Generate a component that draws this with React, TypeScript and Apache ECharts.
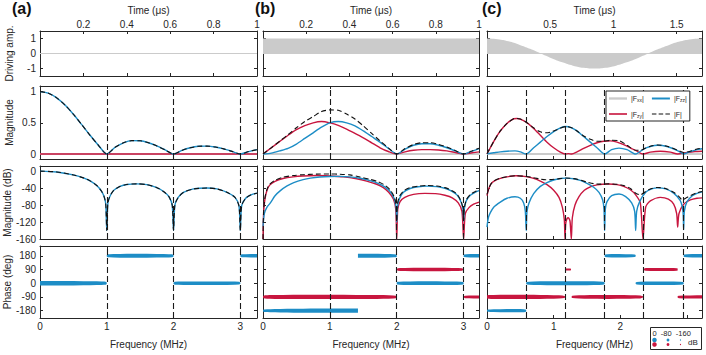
import React, { useEffect, useRef } from 'react';
import * as echarts from 'echarts';

// ---------------- data ----------------
const freqTickValues = [0, 1, 2, 3];
const freqLabelsAB = [0, 1, 2, 3];
const freqLabelsC = [0, 1, 2];
const timeTicksAB = [0.2, 0.4, 0.6, 0.8, 1];
const timeTicksC = [0.5, 1, 1.5];
const driveTicks = [-1, 0, 1];
const magTicks = [0, 0.5, 1];
const dbTicks = [-160, -120, -80, -40, 0];
const phaseTicks = [-180, -90, 0, 90, 180];
const nullsAB = [1, 2, 3];
const nullsC = [0.588, 1.176, 1.765, 2.353, 2.941];

// driving amplitude vs time (us)
const baseAB = [[0, 0], [1, 0]];
const baseC = [[0, 0], [1.7, 0]];
const driveB = [[0, 1], [1, 1]];
const driveC = [[0, 1], [0.085, 0.951], [0.17, 0.809], [0.255, 0.588], [0.34, 0.309], [0.425, 0], [0.51, -0.309], [0.595, -0.588], [0.68, -0.809], [0.765, -0.951], [0.85, -1], [0.935, -0.951], [1.02, -0.809], [1.105, -0.588], [1.19, -0.309], [1.275, 0], [1.36, 0.309], [1.445, 0.588], [1.53, 0.809], [1.615, 0.951], [1.7, 1]];

// zero-valued filter functions
const zeroAB = [[0, 0], [3.25, 0]];
const zeroC = [[0, 0], [3.23, 0]];

// (a) magnitude |F| = |Fzz|
const aMag = [[0, 1], [0.125, 0.975], [0.25, 0.9], [0.375, 0.784], [0.5, 0.637], [0.625, 0.47], [0.75, 0.3], [0.875, 0.139], [1, 0], [1.125, 0.108], [1.25, 0.18], [1.375, 0.214], [1.5, 0.212], [1.625, 0.181], [1.75, 0.129], [1.875, 0.065], [2, 0], [2.125, 0.057], [2.25, 0.1], [2.375, 0.124], [2.5, 0.127], [2.625, 0.112], [2.75, 0.082], [2.875, 0.042], [3, 0], [3.125, 0.039], [3.25, 0.07]];
// (a) magnitude in dB
const aDb = [[0, 0], [0.25, -2], [0.5, -9], [0.65, -16], [0.75, -23], [0.85, -34], [0.92, -47], [0.96, -60], [0.985, -78], [1, -140], [1.015, -78], [1.04, -62], [1.1, -46], [1.2, -36], [1.3, -31.5], [1.45, -30], [1.6, -32], [1.75, -39], [1.85, -48], [1.93, -60], [1.98, -80], [2, -140], [2.02, -80], [2.07, -62], [2.15, -50], [2.3, -42], [2.5, -40], [2.65, -42], [2.8, -50], [2.92, -62], [2.98, -82], [3, -140], [3.02, -82], [3.08, -64], [3.16, -56], [3.25, -52]];

// (b) magnitudes
const bMagZy = [[0, 0], [0.125, 0.1], [0.25, 0.2], [0.375, 0.3], [0.5, 0.39], [0.625, 0.455], [0.75, 0.5], [0.875, 0.52], [1, 0.5], [1.125, 0.46], [1.25, 0.4], [1.375, 0.33], [1.5, 0.26], [1.625, 0.18], [1.75, 0.1], [1.875, 0.04], [2, 0], [2.125, 0.035], [2.25, 0.06], [2.375, 0.07], [2.5, 0.07], [2.625, 0.065], [2.75, 0.05], [2.875, 0.025], [3, 0], [3.125, 0.02], [3.23, 0.035]];
const bMagZz = [[0, 0], [0.125, 0.015], [0.25, 0.05], [0.375, 0.09], [0.5, 0.16], [0.625, 0.25], [0.75, 0.34], [0.875, 0.43], [1, 0.5], [1.125, 0.52], [1.25, 0.5], [1.375, 0.45], [1.5, 0.37], [1.625, 0.28], [1.75, 0.19], [1.875, 0.09], [2, 0], [2.125, 0.08], [2.25, 0.14], [2.375, 0.165], [2.5, 0.165], [2.625, 0.14], [2.75, 0.1], [2.875, 0.05], [3, 0], [3.125, 0.045], [3.23, 0.085]];
const bMagF = [[0, 0], [0.125, 0.101], [0.25, 0.206], [0.375, 0.31], [0.5, 0.42], [0.625, 0.52], [0.75, 0.6], [0.875, 0.68], [1, 0.707], [1.125, 0.7], [1.25, 0.64], [1.375, 0.56], [1.5, 0.45], [1.625, 0.33], [1.75, 0.21], [1.875, 0.098], [2, 0], [2.125, 0.087], [2.25, 0.152], [2.375, 0.18], [2.5, 0.18], [2.625, 0.155], [2.75, 0.112], [2.875, 0.056], [3, 0], [3.125, 0.049], [3.23, 0.092]];
// (b) dB
const bDbZy = [[0, -160], [0.01, -95], [0.03, -65], [0.06, -45], [0.1, -33], [0.18, -24], [0.3, -17.5], [0.45, -13.5], [0.6, -11.5], [0.8, -10.5], [1, -11.5], [1.2, -13.5], [1.4, -18], [1.55, -23.5], [1.7, -31], [1.8, -39], [1.88, -50], [1.95, -66], [1.985, -90], [2, -160], [2.015, -90], [2.05, -72], [2.12, -62], [2.25, -55], [2.42, -52.5], [2.58, -53], [2.72, -57], [2.83, -63], [2.92, -75], [2.975, -95], [3, -160], [3.025, -100], [3.08, -86], [3.15, -78], [3.23, -73]];
const bDbZz = [[0, -130], [0.02, -100], [0.06, -85], [0.11, -75], [0.18, -58], [0.26, -46], [0.36, -35], [0.46, -27], [0.6, -20], [0.71, -16.5], [0.85, -14], [1, -12.8], [1.15, -12.5], [1.3, -13.5], [1.45, -17], [1.6, -22.5], [1.72, -29], [1.82, -37], [1.9, -48], [1.96, -64], [1.99, -85], [2, -120], [2.01, -85], [2.04, -65], [2.1, -50], [2.2, -41], [2.32, -37], [2.45, -35.5], [2.6, -36.5], [2.72, -40.5], [2.82, -47], [2.9, -56], [2.96, -72], [2.99, -90], [3, -118], [3.01, -90], [3.04, -70], [3.1, -57], [3.17, -50], [3.23, -46]];
const bDbF = [[0, -160], [0.01, -92], [0.03, -62], [0.06, -43], [0.1, -31], [0.18, -21.5], [0.3, -14.5], [0.45, -10.5], [0.6, -8.5], [0.8, -7.2], [1, -6.7], [1.15, -7.3], [1.3, -9], [1.45, -14], [1.6, -19.5], [1.72, -25], [1.82, -33], [1.9, -44], [1.96, -60], [1.99, -78], [2, -118], [2.01, -78], [2.04, -60], [2.1, -47], [2.2, -39], [2.32, -35.5], [2.45, -34], [2.6, -35], [2.72, -39], [2.82, -45.5], [2.9, -54], [2.96, -70], [2.99, -88], [3, -116], [3.01, -88], [3.04, -68], [3.1, -55], [3.17, -48.5], [3.23, -45]];

// (c) magnitudes
const cMagZy = [[0, 0], [0.1, 0.2], [0.2, 0.37], [0.3, 0.49], [0.4, 0.565], [0.45, 0.57], [0.5, 0.56], [0.588, 0.51], [0.7, 0.41], [0.8, 0.3], [0.9, 0.19], [1, 0.1], [1.1, 0.03], [1.17, 0], [1.22, 0.006], [1.27, 0], [1.35, 0.035], [1.45, 0.09], [1.55, 0.14], [1.65, 0.18], [1.75, 0.205], [1.85, 0.21], [1.95, 0.19], [2.05, 0.15], [2.15, 0.1], [2.25, 0.045], [2.34, 0], [2.45, 0.03], [2.6, 0.045], [2.75, 0.03], [2.86, 0], [3, 0.025], [3.12, 0.04], [3.225, 0.045]];
const cMagZz = [[0, 0.005], [0.1, 0.02], [0.2, 0.035], [0.3, 0.045], [0.42, 0.05], [0.5, 0.035], [0.588, 0], [0.7, 0.1], [0.8, 0.19], [0.9, 0.28], [1, 0.36], [1.1, 0.42], [1.18, 0.44], [1.27, 0.42], [1.35, 0.37], [1.45, 0.28], [1.55, 0.19], [1.65, 0.1], [1.765, 0], [1.87, 0.07], [1.98, 0.095], [2.1, 0.07], [2.23, 0], [2.35, 0.08], [2.45, 0.12], [2.56, 0.14], [2.7, 0.12], [2.85, 0.06], [2.95, 0], [3.05, 0.04], [3.15, 0.07], [3.225, 0.085]];
const cMagF = [[0, 0.005], [0.1, 0.2], [0.2, 0.37], [0.3, 0.49], [0.4, 0.565], [0.45, 0.57], [0.5, 0.56], [0.588, 0.51], [0.7, 0.42], [0.8, 0.355], [0.88, 0.34], [0.95, 0.35], [1.05, 0.39], [1.18, 0.44], [1.27, 0.42], [1.35, 0.37], [1.45, 0.29], [1.55, 0.235], [1.65, 0.205], [1.75, 0.205], [1.85, 0.22], [1.98, 0.215], [2.1, 0.14], [2.23, 0.06], [2.3, 0.06], [2.35, 0.08], [2.45, 0.125], [2.56, 0.145], [2.7, 0.125], [2.85, 0.065], [2.95, 0.025], [3.05, 0.045], [3.15, 0.08], [3.225, 0.095]];
// (c) dB
const cDbZy = [[0, -58], [0.03, -40], [0.06, -30], [0.1, -24], [0.2, -17], [0.3, -13.5], [0.435, -11], [0.588, -13], [0.7, -17], [0.8, -23.5], [0.9, -32], [1, -45], [1.08, -62], [1.13, -85], [1.16, -115], [1.17, -160], [1.18, -125], [1.2, -112], [1.22, -110], [1.245, -118], [1.265, -160], [1.28, -110], [1.32, -80], [1.38, -60], [1.46, -45], [1.55, -37], [1.65, -32.5], [1.82, -30.5], [1.95, -32], [2.05, -36], [2.15, -44], [2.23, -56], [2.3, -75], [2.34, -160], [2.38, -85], [2.45, -70], [2.6, -62], [2.72, -66], [2.8, -78], [2.845, -100], [2.86, -132], [2.88, -100], [2.95, -78], [3.05, -68], [3.15, -64], [3.225, -63]];
const cDbZz = [[0, -132], [0.02, -110], [0.05, -98], [0.1, -85], [0.2, -73], [0.3, -64], [0.42, -60.5], [0.5, -64], [0.55, -75], [0.575, -95], [0.588, -140], [0.6, -95], [0.63, -75], [0.7, -53], [0.8, -36], [0.9, -27], [1, -21], [1.1, -17.5], [1.18, -16.5], [1.3, -18], [1.4, -22], [1.5, -29], [1.6, -38], [1.68, -50], [1.735, -68], [1.755, -90], [1.765, -140], [1.775, -90], [1.8, -72], [1.87, -58], [1.98, -54], [2.08, -60], [2.17, -75], [2.215, -95], [2.23, -140], [2.245, -95], [2.29, -72], [2.38, -50], [2.47, -42], [2.56, -39.5], [2.68, -42], [2.8, -52], [2.9, -70], [2.94, -95], [2.95, -138], [2.96, -95], [3, -72], [3.08, -58], [3.16, -52], [3.225, -49]];
const cDbF = [[0, -55], [0.03, -40], [0.06, -30], [0.1, -23.5], [0.2, -16.5], [0.3, -13.2], [0.435, -10.8], [0.588, -12.8], [0.7, -15.5], [0.8, -19], [0.88, -20.5], [0.95, -20], [1.05, -18.5], [1.18, -16.2], [1.3, -17.8], [1.4, -21], [1.5, -26], [1.6, -29.5], [1.7, -30.8], [1.82, -30], [1.95, -31], [2.05, -34], [2.15, -41], [2.23, -52], [2.3, -56], [2.38, -48], [2.47, -41], [2.56, -38.5], [2.68, -41], [2.8, -50], [2.88, -60], [2.93, -68], [2.98, -64], [3.05, -58], [3.15, -51], [3.225, -48]];

// phase segments: [f start, f end, phase deg]
const phZzA = [[0, 1, 0], [1, 2, 180], [2, 3, 0], [3, 3.25, 180]];
const phZzB = [[0, 1.42, -180], [1.42, 2, 180], [2, 3, 0], [3, 3.23, 180]];
const phZyB = [[0, 2, -90], [2, 3, 90], [3, 3.23, -90]];
const phZzC = [[0, 0.588, -180], [0.588, 1.765, 0], [1.765, 2.23, 180], [2.23, 2.95, 0], [2.95, 3.225, 180]];
const phZyC = [[0, 1.17, -90], [1.18, 1.26, 90], [1.27, 2.34, -90], [2.34, 2.86, 90], [2.86, 3.225, -90]];

const dotLegendText = '0  -80  -160';
const dotLegendDb = [0, -80, -160];

// ---------------- styling ----------------
const BLUE = '#1d8dc6';
const RED = '#c8163f';
const LGRAY = '#cbcbcb';
const INK = '#262626';
const FONT = '"Liberation Sans", Arial, Helvetica, sans-serif';

const COLS = [
  { left: 40, width: 217, fmax: 3.25, tmax: 1, tTicks: timeTicksAB, fLabels: freqLabelsAB, nulls: nullsAB },
  { left: 263, width: 216, fmax: 3.23, tmax: 1, tTicks: timeTicksAB, fLabels: freqLabelsAB, nulls: nullsAB },
  { left: 487, width: 215, fmax: 3.225, tmax: 1.7, tTicks: timeTicksC, fLabels: freqLabelsC, nulls: nullsC },
];
const ROWS = [
  { top: 31, height: 45, min: -1.5, max: 1.5, ticks: driveTicks, name: 'Driving amp.' },
  { top: 86, height: 73, min: -0.08, max: 1.09, ticks: magTicks, name: 'Magnitude' },
  { top: 166, height: 73, min: -160, max: 12, ticks: dbTicks, name: 'Magnitude (dB)' },
  { top: 246, height: 72, min: -228, max: 244, ticks: phaseTicks, name: 'Phase (deg)' },
];

const sizeOf = (db: number) => 1.2 + 3.3 * Math.max(0, 1 + db / 160);
const interp = (arr: number[][], f: number) => {
  if (f <= arr[0][0]) return arr[0][1];
  for (let i = 1; i < arr.length; i++) {
    if (f <= arr[i][0]) {
      const [x0, y0] = arr[i - 1];
      const [x1, y1] = arr[i];
      return y0 + ((y1 - y0) * (f - x0)) / (x1 - x0 || 1);
    }
  }
  return arr[arr.length - 1][1];
};

function buildOption() {
  const grid: any[] = [];
  const xAxis: any[] = [];
  const yAxis: any[] = [];
  const axLine = { show: true, onZero: false, lineStyle: { color: INK, width: 1 } };
  const tick = (vals: number[]) => ({ show: true, inside: true, length: 3, lineStyle: { color: INK, width: 1 }, customValues: vals });
  const lbl = { color: INK, fontSize: 10, fontFamily: FONT };
  const nameStyle = { color: INK, fontSize: 10, fontFamily: FONT };

  ROWS.forEach((row, r) =>
    COLS.forEach((col, c) => {
      const gi = r * 3 + c;
      grid.push({ left: col.left, top: row.top, width: col.width, height: row.height, containLabel: false, outerBoundsMode: 'none' });
      const isTime = r === 0;
      const xmax = isTime ? col.tmax : col.fmax;
      const xt = isTime ? col.tTicks : freqTickValues;
      xAxis.push({
        type: 'value', gridIndex: gi, position: 'bottom', min: 0, max: xmax,
        axisLine: axLine, axisTick: tick(xt), splitLine: { show: false },
        axisLabel: r === 3 ? { show: true, customValues: col.fLabels, margin: 3, ...lbl } : { show: false },
        name: r === 3 ? 'Frequency (MHz)' : '', nameLocation: 'middle', nameGap: 21, nameTextStyle: nameStyle,
      });
      xAxis.push({
        type: 'value', gridIndex: gi, position: 'top', min: 0, max: xmax,
        axisLine: axLine, axisTick: tick(xt), splitLine: { show: false },
        axisLabel: r === 0 ? { show: true, customValues: col.tTicks, margin: 2, ...lbl } : { show: false },
        name: r === 0 ? 'Time (μs)' : '', nameLocation: 'middle', nameGap: 16, nameTextStyle: nameStyle,
      });
      yAxis.push({
        type: 'value', gridIndex: gi, position: 'left', min: row.min, max: row.max,
        axisLine: axLine, axisTick: tick(row.ticks), splitLine: { show: false },
        axisLabel: c === 0 ? { show: true, customValues: row.ticks, margin: 4, ...lbl } : { show: false },
        name: c === 0 ? row.name : '', nameLocation: 'middle', nameGap: 26, nameRotate: 90, nameTextStyle: nameStyle,
      });
      yAxis.push({
        type: 'value', gridIndex: gi, position: 'right', min: row.min, max: row.max,
        axisLine: axLine, axisTick: tick(row.ticks), splitLine: { show: false }, axisLabel: { show: false },
      });
    })
  );

  const series: any[] = [];
  const line = (gi: number, name: string, data: number[][], color: string, width: number, z: number, extra: any = {}) => {
    series.push({
      type: 'line', name, xAxisIndex: 2 * gi, yAxisIndex: 2 * gi, data, symbol: 'none', showSymbol: false,
      silent: true, smooth: 0.25, z, lineStyle: { color, width, ...(extra.lineStyle || {}) }, itemStyle: { color },
      ...(extra.rest || {}),
    });
  };
  const dashed = { lineStyle: { type: [5, 3] } };
  const phase = (gi: number, segs: number[][], dbArr: number[][], color: string) => {
    series.push({
      type: 'custom', xAxisIndex: 2 * gi, yAxisIndex: 2 * gi, data: segs, encode: { x: [0, 1], y: 2 },
      silent: true, z: 3,
      renderItem: (_p: any, api: any) => {
        const f0 = api.value(0);
        const f1 = api.value(1);
        const ph = api.value(2);
        const fs = [f0, ...dbArr.map((p) => p[0]).filter((f) => f > f0 && f < f1), f1];
        const top: number[][] = [];
        const bot: number[][] = [];
        fs.forEach((f) => {
          const pt = api.coord([f, ph]);
          const h = sizeOf(interp(dbArr, f)) / 2;
          top.push([pt[0], pt[1] - h]);
          bot.push([pt[0], pt[1] + h]);
        });
        return { type: 'polygon', shape: { points: top.concat(bot.reverse()) }, style: { fill: color } };
      },
    });
  };
  const nullLines = (gi: number, nulls: number[]) => {
    series.push({
      type: 'line', xAxisIndex: 2 * gi, yAxisIndex: 2 * gi, data: [], silent: true, z: 1,
      markLine: {
        silent: true, symbol: ['none', 'none'], label: { show: false }, animation: false,
        lineStyle: { color: '#1a1a1a', width: 1.1, type: [6, 3] },
        data: nulls.map((x) => ({ xAxis: x })),
      },
    });
  };

  // Row 1: driving amplitude
  line(0, 'drv', baseAB, LGRAY, 1.2, 3);
  line(1, 'drv', driveB, LGRAY, 0, 2, { rest: { areaStyle: { color: LGRAY, opacity: 1, origin: 0 }, smooth: false } });
  line(1, 'drv', baseAB, LGRAY, 1.2, 3);
  line(2, 'drv', driveC, LGRAY, 0, 2, { rest: { areaStyle: { color: LGRAY, opacity: 1, origin: 0 }, smooth: true } });
  line(2, 'drv', baseC, LGRAY, 1.2, 3);

  // Row 2: magnitude
  const mags = [
    { zy: zeroAB, zz: aMag, f: aMag, xx: zeroAB },
    { zy: bMagZy, zz: bMagZz, f: bMagF, xx: zeroAB },
    { zy: cMagZy, zz: cMagZz, f: cMagF, xx: zeroC },
  ];
  mags.forEach((m, c) => {
    const gi = 3 + c;
    nullLines(gi, COLS[c].nulls);
    line(gi, 'Fxx', m.xx, LGRAY, 2, 2);
    line(gi, 'Fzy', m.zy, RED, 1.4, 3);
    line(gi, 'Fzz', m.zz, BLUE, 1.4, 4);
    line(gi, 'F', m.f, '#111111', 1.1, 5, dashed);
  });

  // Row 3: magnitude dB
  const dbs = [
    { zy: null as any, zz: aDb, f: aDb },
    { zy: bDbZy, zz: bDbZz, f: bDbF },
    { zy: cDbZy, zz: cDbZz, f: cDbF },
  ];
  dbs.forEach((d, c) => {
    const gi = 6 + c;
    nullLines(gi, COLS[c].nulls);
    if (d.zy) line(gi, 'Fzy', d.zy, RED, 1.4, 3);
    line(gi, 'Fzz', d.zz, BLUE, 1.4, 4);
    line(gi, 'F', d.f, '#111111', 1.1, 5, dashed);
  });

  // Row 4: phase
  nullLines(9, nullsAB);
  nullLines(10, nullsAB);
  nullLines(11, nullsC);
  phase(9, phZzA, aDb, BLUE);
  phase(10, phZyB, bDbZy, RED);
  phase(10, phZzB, bDbZz, BLUE);
  phase(11, phZyC, cDbZy, RED);
  phase(11, phZzC, cDbZz, BLUE);

  const LEG: Record<string, string> = { Fxx: '|F{s|xx}|', Fzz: '|F{s|zz}|', Fzy: '|F{s|zy}|', F: '|F|' };
  const solidIcon = (h: number) => `path://M0,0H20V${h}H0Z`;
  const dashIcon = 'path://M0,0H5V1.3H0Z M7.5,0H12.5V1.3H7.5Z M15,0H20V1.3H15Z';

  const dotX = [654.5, 668, 680.5];
  const graphic: any[] = [
    { type: 'text', left: 12, top: 0, style: { text: '(a)', font: `bold 16px ${FONT}`, fill: '#111' } },
    { type: 'text', left: 255, top: 0, style: { text: '(b)', font: `bold 16px ${FONT}`, fill: '#111' } },
    { type: 'text', left: 482, top: 0, style: { text: '(c)', font: `bold 16px ${FONT}`, fill: '#111' } },
    { type: 'rect', shape: { x: 650.5, y: 327.5, width: 51, height: 22 }, style: { fill: '#fff', stroke: INK, lineWidth: 1 }, z: 10 },
    { type: 'text', x: 652.5, y: 329, z: 11, style: { text: dotLegendText, font: `7.5px ${FONT}`, fill: INK } },
    ...dotLegendDb.map((db, i) => ({ type: 'circle', z: 11, shape: { cx: dotX[i], cy: 340, r: sizeOf(db) / 2 }, style: { fill: BLUE } })),
    ...dotLegendDb.map((db, i) => ({ type: 'circle', z: 11, shape: { cx: dotX[i], cy: 344.5, r: sizeOf(db) / 2 }, style: { fill: RED } })),
    { type: 'text', x: 688, y: 338.5, z: 11, style: { text: 'dB', font: `8px ${FONT}`, fill: INK } },
  ];

  return {
    animation: false,
    backgroundColor: '#ffffff',
    textStyle: { fontFamily: FONT },
    grid, xAxis, yAxis, series, graphic,
    legend: {
      data: [
        { name: 'Fxx', icon: solidIcon(2.6) },
        { name: 'Fzz', icon: solidIcon(2.2) },
        { name: 'Fzy', icon: solidIcon(1.8) },
        { name: 'F', icon: dashIcon },
      ],
      left: 606, top: 91, width: 88, padding: [4, 3, 3, 3],
      itemWidth: 18, itemHeight: 8, itemGap: 8,
      backgroundColor: '#fff', borderColor: INK, borderWidth: 1, borderRadius: 0,
      selectedMode: false, z: 20,
      formatter: (n: string) => LEG[n],
      textStyle: { fontSize: 7, color: INK, fontFamily: FONT, padding: [0, 0, 0, -1], rich: { s: { fontSize: 5, padding: [3, 0, 0, 0], fontFamily: FONT } } },
    },
  };
}

export default function App() {
  const ref = useRef<HTMLDivElement>(null);
  useEffect(() => {
    const chart = echarts.init(ref.current as HTMLDivElement, null, { renderer: 'svg' });
    chart.setOption(buildOption() as any);
    return () => chart.dispose();
  }, []);
  return <div ref={ref} style={{ position: 'fixed', left: 0, top: 0, width: 706, height: 355, background: '#fff' }} />;
}
